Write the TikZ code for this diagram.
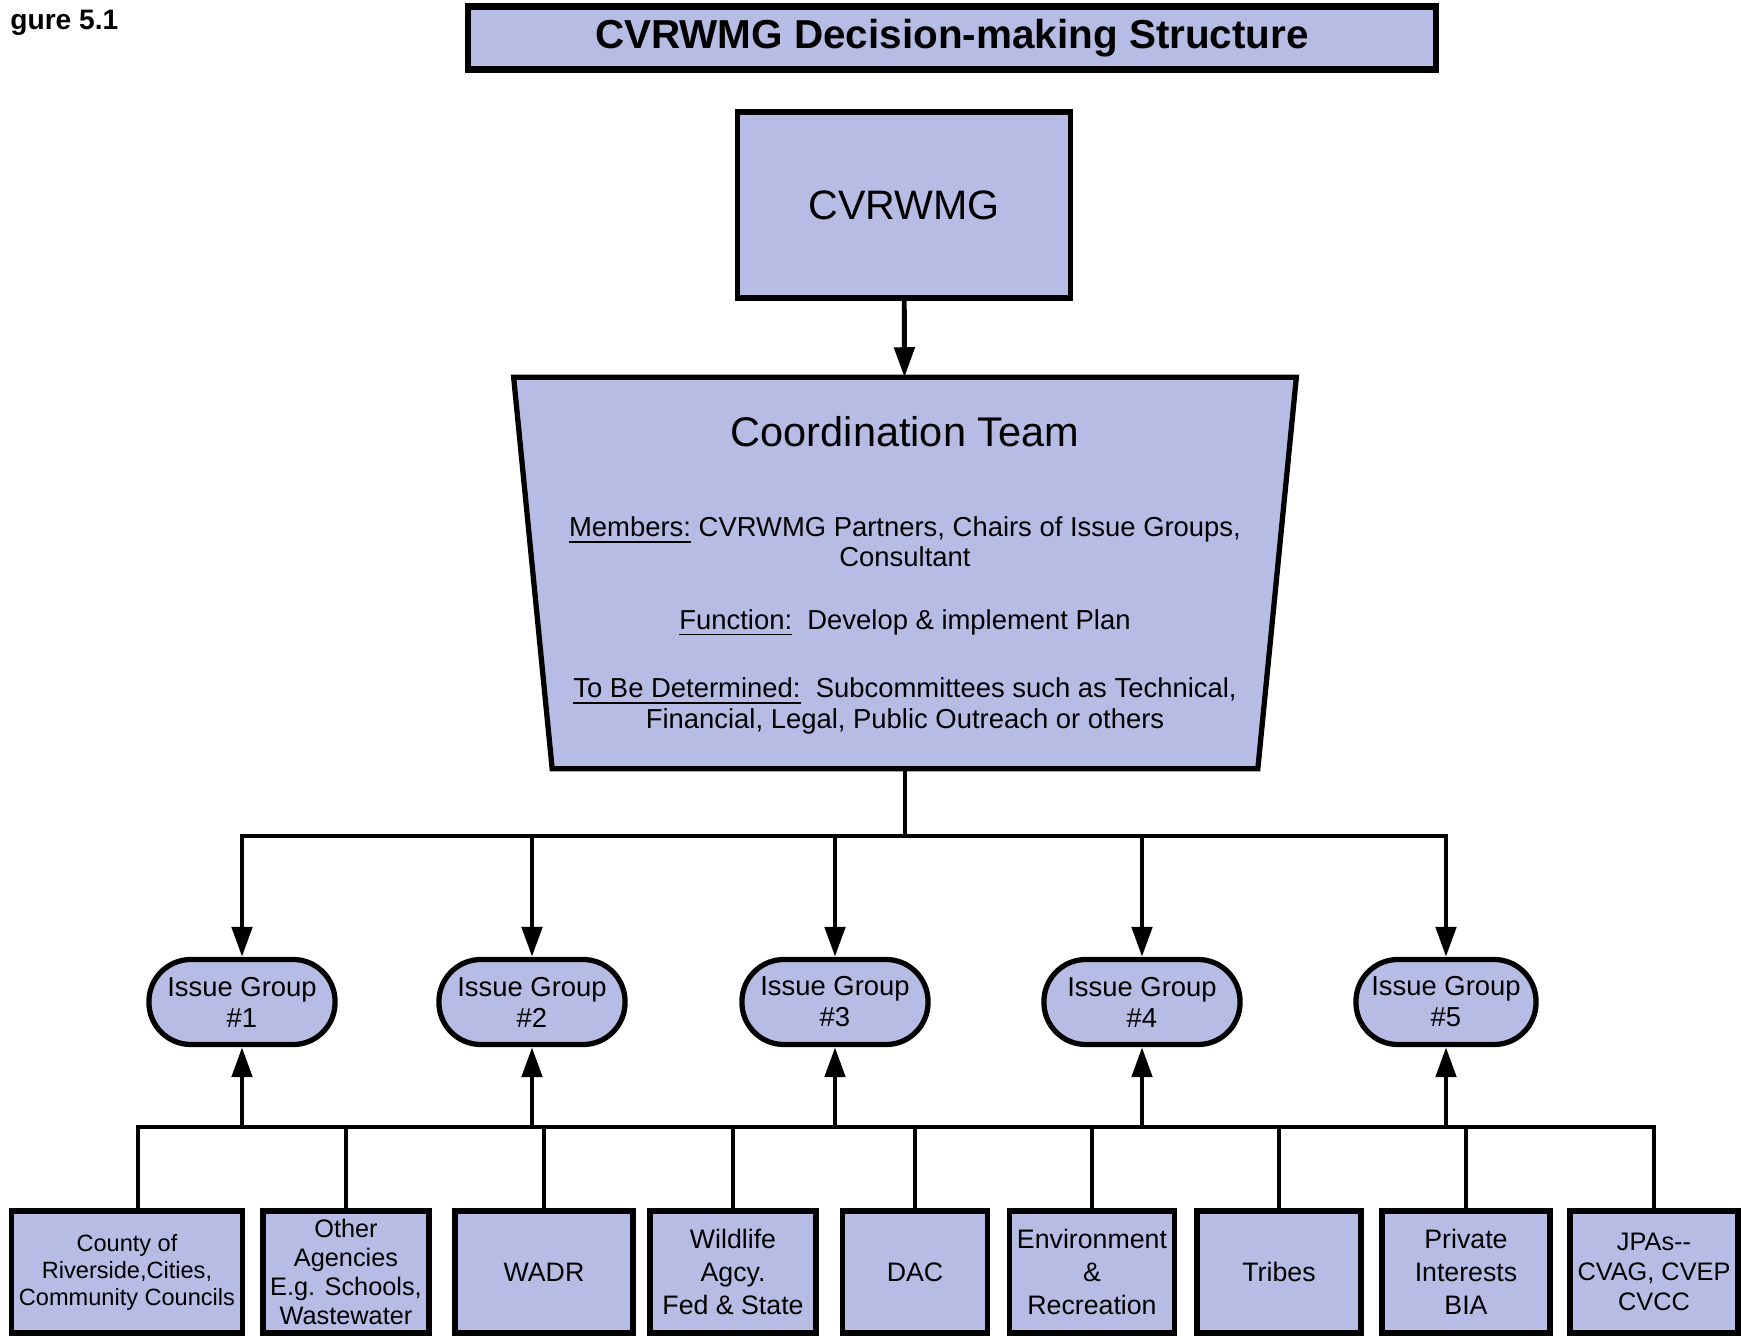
\documentclass[tikz,border=0pt]{standalone}
\usepackage{fontspec}
\setmainfont{Liberation Sans}
\usetikzlibrary{arrows.meta,positioning}
\definecolor{boxblue}{RGB}{182,188,228}
\tikzset{
  box/.style={draw, line width=1.5pt, fill=boxblue, inner sep=0pt, align=center},
  plate/.style={draw, line width=1.5pt, fill=boxblue},
  teamtext/.style={align=center, font=\fontsize{7.8}{8.6}\selectfont},
  issue/.style={box, rounded corners=4.2mm, minimum width=18.6mm, minimum height=8.5mm, font=\fontsize{7.8}{8.8}\selectfont},
  member/.style={box, minimum height=12.2mm, font=\fontsize{7.6}{9.4}\selectfont},
  link/.style={line width=1.4pt, line cap=rect},
  arr/.style={line width=1.4pt, -{Triangle[length=3mm,width=2mm]}},
}

\begin{document}
\begin{tikzpicture}[x=0.01cm, y=-0.01cm]
  \useasboundingbox (0,0) rectangle (1741,1336);

  % heading
  \node[anchor=west, font=\fontsize{8}{9}\selectfont\bfseries] (fig) at (-2,23) {gure 5.1};
  \node[box, line width=1.8pt, minimum width=96.8mm, minimum height=6.3mm,
        font=\fontsize{11.5}{13}\selectfont\bfseries] (title) at (952,38) {CVRWMG Decision-making Structure};

  % top of the structure
  \node[box, minimum width=33.3mm, minimum height=18.6mm,
        font=\fontsize{11.7}{14}\selectfont] (cvrwmg) at (904,205) {CVRWMG};

  \node[minimum width=77.7mm, minimum height=38.6mm, inner sep=0pt, outer sep=0.75pt] (team) at (905,573) {};
  \draw[plate] (team.north west) -- (team.north east) -- ([xshift=-3.85mm]team.south east)
     -- ([xshift=3.85mm]team.south west) -- cycle;
  \node[font=\fontsize{11.8}{14}\selectfont] (teamname) at (905,432) {Coordination Team};
  \node[teamtext] (members) at (905,542) {\underline{Members:} CVRWMG Partners, Chairs of Issue Groups,\\Consultant};
  \node[teamtext] (function) at (905,623) {\underline{Function:}\ \ Develop \& implement Plan};
  \node[teamtext] (tbd) at (905,706) {\underline{To Be Determined:}\ \ Subcommittees such as Technical,\\Financial, Legal, Public Outreach or others};

  % issue groups
  \node[issue] (g1) at (242,1002) {Issue Group\\\#1};
  \node[issue] (g2) at (532,1002) {Issue Group\\\#2};
  \node[issue] (g3) at (835,1002) {Issue Group\\\#3};
  \node[issue, minimum width=19.6mm] (g4) at (1142,1002) {Issue Group\\\#4};
  \node[issue, minimum width=18mm] (g5) at (1446,1002) {Issue Group\\\#5};

  % members
  \node[member, minimum width=23.1mm, font=\fontsize{6.7}{7.7}\selectfont] (b1) at (127,1272) {County of\\Riverside,Cities,\\Community Councils};
  \node[member, minimum width=16.6mm, font=\fontsize{7.2}{8.3}\selectfont] (b2) at (346,1272) {Other\\Agencies\\E.g. Schools,\\Wastewater};
  \node[member, minimum width=17.8mm] (b3) at (544,1272) {WADR};
  \node[member, minimum width=16.6mm] (b4) at (733,1272) {Wildlife\\Agcy.\\Fed \& State};
  \node[member, minimum width=14.5mm] (b5) at (915,1272) {DAC};
  \node[member, minimum width=16.5mm] (b6) at (1092,1272) {Environment\\\&\\Recreation};
  \node[member, minimum width=16.4mm] (b7) at (1279,1272) {Tribes};
  \node[member, minimum width=16.8mm] (b8) at (1466,1272) {Private\\Interests\\BIA};
  \node[member, minimum width=16.8mm, font=\fontsize{7.2}{8.6}\selectfont] (b9) at (1654,1272) {JPAs{-}{-}\\CVAG, CVEP\\CVCC};

  \coordinate (hub) at (905,836);
  \coordinate (base) at (905,1127);

  % connectors
  \draw[arr] (cvrwmg) -- (team);
  \draw[link] (team.south) -- (hub);
  \draw[link] (g1.north |- hub) -- (g5.north |- hub);
  \foreach \i in {1,...,5}
    \draw[arr] (g\i.north |- hub) -- (g\i.north);

  \draw[link] ([xshift=1.1mm]b1.north |- base) -- (b9.north |- base);
  \draw[link] ([xshift=1.1mm]b1.north) -- ([xshift=1.1mm]b1.north |- base);
  \foreach \i in {2,...,9}
    \draw[link] (b\i.north) -- (b\i.north |- base);
  \foreach \i in {1,...,5}
    \draw[arr] (g\i.south |- base) -- (g\i.south);
\end{tikzpicture}
\end{document}
